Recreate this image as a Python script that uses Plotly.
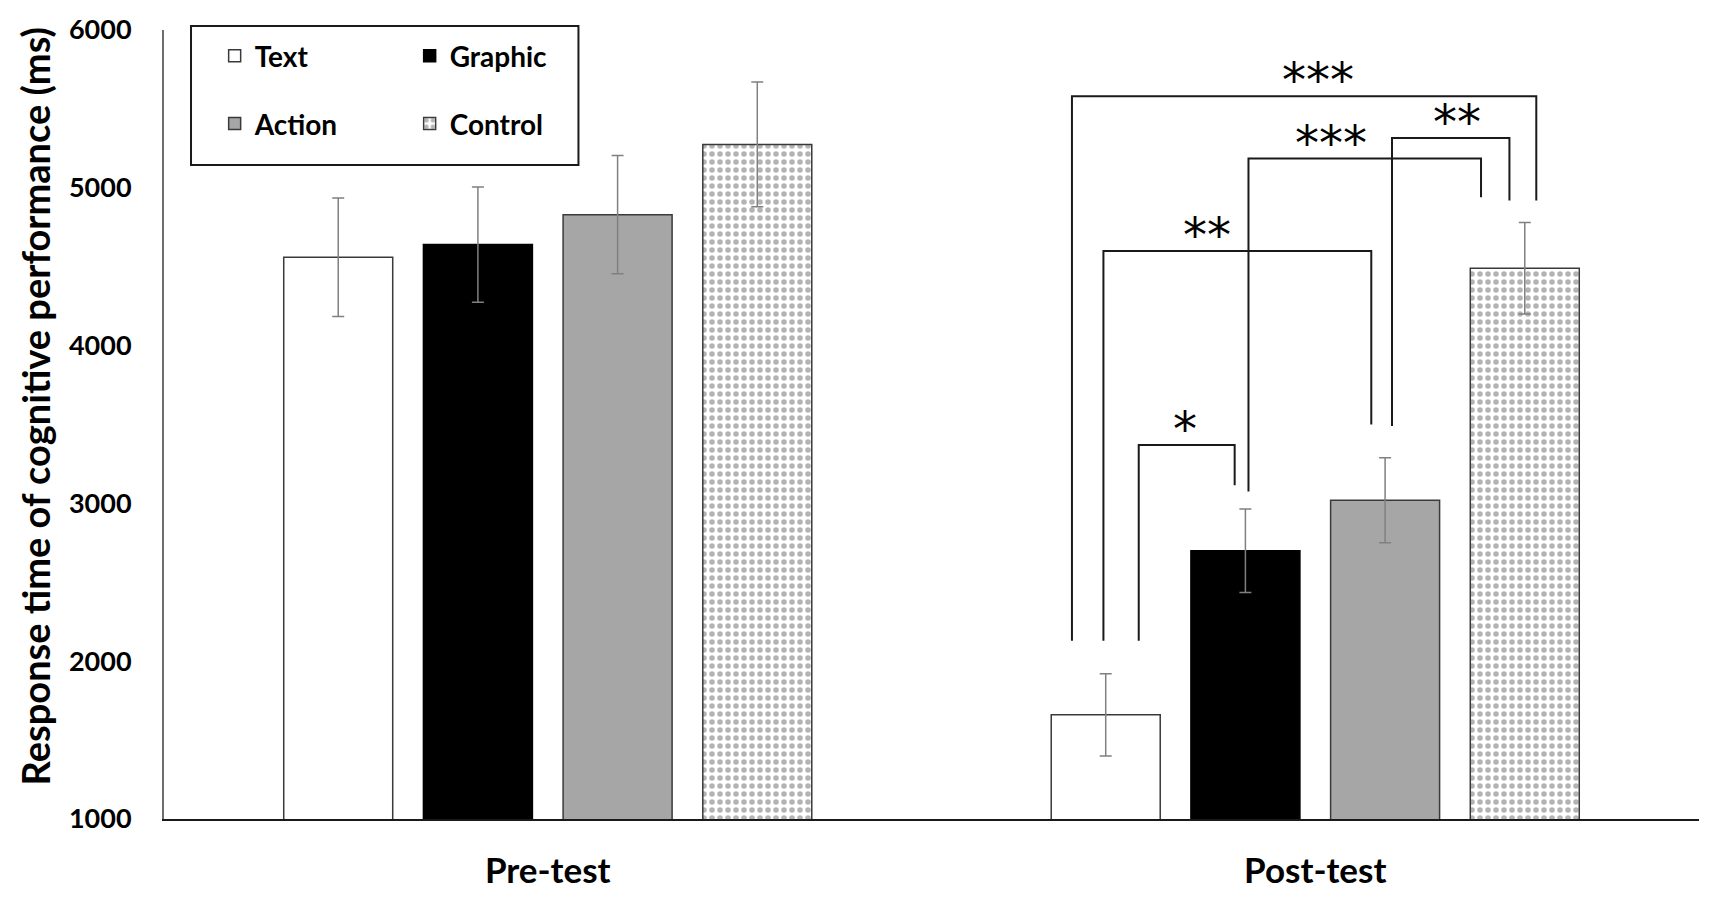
import plotly.graph_objects as go

# ---- data ----
phases = ["Pre-test", "Post-test"]
conditions = ["Text", "Graphic", "Action", "Control"]
pre_means = [4560, 4640, 4830, 5275]
pre_errors = [375, 365, 375, 395]
post_means = [1660, 2700, 3020, 4490]
post_errors = [260, 265, 270, 290]

# significance brackets on the post-test bars
sig_from = ["Text", "Text", "Text", "Graphic", "Action"]
sig_to = ["Control", "Action", "Graphic", "Control", "Control"]
sig_labels = ["***", "**", "*", "***", "**"]
sig_tops = [5580, 4600, 3370, 5185, 5315]
sig_from_ends = [2130, 2130, 2130, 3075, 3490]
sig_to_ends = [4920, 3500, 3115, 4940, 4920]

y_title = "Response time of cognitive performance (ms)"

# ---- styling ----
fills = ["white", "black", "#a6a6a6", "white"]
edges = ["#3a3a3a", "#000000", "#3a3a3a", "#3a3a3a"]
font_main = "Lato"
step = 0.182
bar_w = 0.142
offsets = [(i - 1.5) * step for i in range(len(conditions))]
from_dx = [-0.044, -0.003, 0.043, 0.004, 0.009]
to_dx = [0.015, -0.018, -0.014, -0.057, -0.020]
label_dx = [0.018, -0.04, -0.002, -0.044, 0.008]

fig = go.Figure()
for i, cond in enumerate(conditions):
    marker = dict(color=fills[i], line=dict(color=edges[i], width=1.5))
    if cond == "Control":
        marker["pattern"] = dict(shape=".", fgcolor="#6a6a6a", bgcolor="white",
                                 size=8, solidity=0.38)
    fig.add_trace(go.Bar(
        x=[p + offsets[i] for p in range(len(phases))],
        y=[pre_means[i], post_means[i]],
        width=bar_w,
        name=cond,
        marker=marker,
        error_y=dict(type="data", array=[pre_errors[i], post_errors[i]],
                     color="#808080", thickness=1.5, width=6),
        legend="legend" if i < 2 else "legend2",
    ))

# brackets
post_idx = 1
for k in range(len(sig_labels)):
    a = conditions.index(sig_from[k])
    b = conditions.index(sig_to[k])
    xa = post_idx + offsets[a] + from_dx[k]
    xb = post_idx + offsets[b] + to_dx[k]
    top = sig_tops[k]
    fig.add_shape(type="path", xref="x", yref="y",
                  path=f"M {xa},{sig_from_ends[k]} L {xa},{top} L {xb},{top} L {xb},{sig_to_ends[k]}",
                  line=dict(color="#1a1a1a", width=2))
    fig.add_annotation(x=(xa + xb) / 2 + label_dx[k], y=top, text=sig_labels[k],
                       showarrow=False, yanchor="bottom", yshift=-14,
                       font=dict(family="DejaVu Sans", size=48, color="black"))

# y axis title (placed a little above centre like the original)
fig.add_annotation(text=y_title, textangle=-90, xref="paper", yref="paper",
                   x=-0.084, y=0.523, xanchor="center", yanchor="middle", showarrow=False,
                   font=dict(family=font_main, size=38, color="black", weight="bold"))

# legend frame
fig.add_shape(type="rect", xref="paper", yref="paper", x0=0.0176, x1=0.270,
              y0=0.829, y1=1.005, line=dict(color="#1a1a1a", width=2))

leg_common = dict(orientation="h", xanchor="left", yanchor="middle",
                  entrywidth=150, entrywidthmode="pixels", bgcolor="rgba(0,0,0,0)",
                  font=dict(family=font_main, size=28, color="black", weight="bold"))

fig.update_layout(
    width=1713, height=905,
    margin=dict(l=164, r=14, t=22, b=86),
    plot_bgcolor="white", paper_bgcolor="white",
    showlegend=True,
    legend=dict(x=0.033, y=0.967, **leg_common),
    legend2=dict(x=0.033, y=0.881, **leg_common),
    xaxis=dict(range=[-0.5, 1.5], tickvals=list(range(len(phases))), ticktext=phases,
               showline=True, linecolor="#1a1a1a", linewidth=2, showgrid=False,
               zeroline=False, ticks="", ticklabelstandoff=20,
               tickfont=dict(family=font_main, size=35, color="black", weight="bold")),
    yaxis=dict(range=[1000, 6000], dtick=1000, showline=True, linecolor="#6e6e6e",
               linewidth=2, showgrid=False, zeroline=False, ticks="",
               ticklabelstandoff=25,
               tickfont=dict(family=font_main, size=27, color="black", weight="bold")),
)

fig.write_html("out.html", config={"displayModeBar": False},
               post_script="document.body.style.margin='0';document.body.style.overflow='hidden';")
